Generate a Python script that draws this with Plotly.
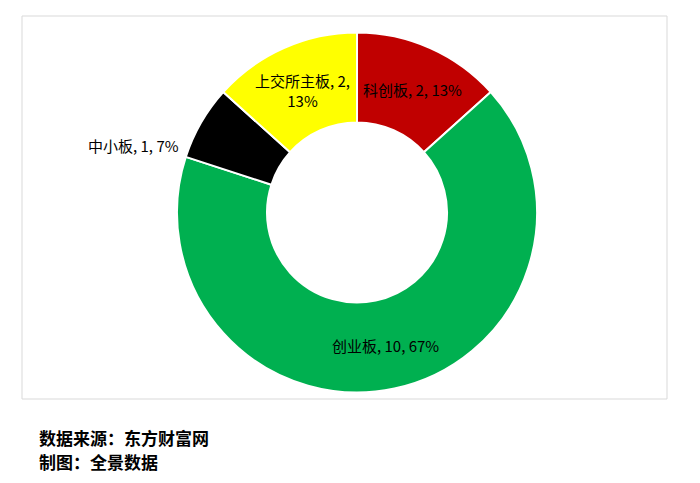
import plotly.graph_objects as go

# data
boards = ['科创板', '创业板', '中小板', '上交所主板']
counts = [2, 10, 1, 2]
colors = ['#C00000', '#00B050', '#000000', '#FFFF00']
pcts = ['13%', '67%', '7%', '13%']

# page has an 8px body margin, so work in page pixels minus that offset
OX, OY = 8, 7
W, H = 684, 468


def px_x(x):
    return (x - OX) / W


def px_y(y):
    return 1 - (y - OY) / H


fig = go.Figure(go.Pie(
    labels=boards,
    values=counts,
    hole=0.5,
    sort=False,
    direction='clockwise',
    rotation=0,
    marker=dict(colors=colors, line=dict(color='white', width=2)),
    textinfo='none',
    hoverinfo='label+value+percent',
    showlegend=False,
    domain=dict(x=[px_x(177), px_x(537)], y=[px_y(392), px_y(31)]),
))

# data labels (pixel centres)
label_pos = {
    '科创板': (412, 88),
    '创业板': (385, 344),
    '中小板': (133, 144),
    '上交所主板': (302, 89),
}
for b, c, p in zip(boards, counts, pcts):
    txt = f'{b}, {c}, {p}'
    if b == '上交所主板':
        txt = f'{b}, {c},<br>{p}'
    x, y = label_pos[b]
    fig.add_annotation(x=px_x(x), y=px_y(y), xref='paper', yref='paper',
                       xanchor='center', yanchor='middle',
                       text=txt, showarrow=False,
                       font=dict(size=15, color='black', family='Noto Sans CJK SC'))

# chart border
fig.add_shape(type='rect', xref='paper', yref='paper',
              x0=px_x(22), x1=px_x(667), y0=px_y(398), y1=px_y(15),
              line=dict(color='#D9D9D9', width=1), fillcolor='rgba(0,0,0,0)')

# source notes
fig.add_annotation(x=px_x(37), y=px_y(436), xref='paper', yref='paper',
                   xanchor='left', yanchor='middle',
                   text='<b>数据来源：东方财富网</b>', showarrow=False,
                   font=dict(size=17, color='black', family='Noto Sans CJK SC'))
fig.add_annotation(x=px_x(37), y=px_y(460), xref='paper', yref='paper',
                   xanchor='left', yanchor='middle',
                   text='<b>制图：全景数据</b>', showarrow=False,
                   font=dict(size=17, color='black', family='Noto Sans CJK SC'))

fig.update_layout(
    width=W, height=H,
    margin=dict(l=0, r=0, t=0, b=0),
    paper_bgcolor='white',
    plot_bgcolor='white',
)

fig.write_html("out.html")
